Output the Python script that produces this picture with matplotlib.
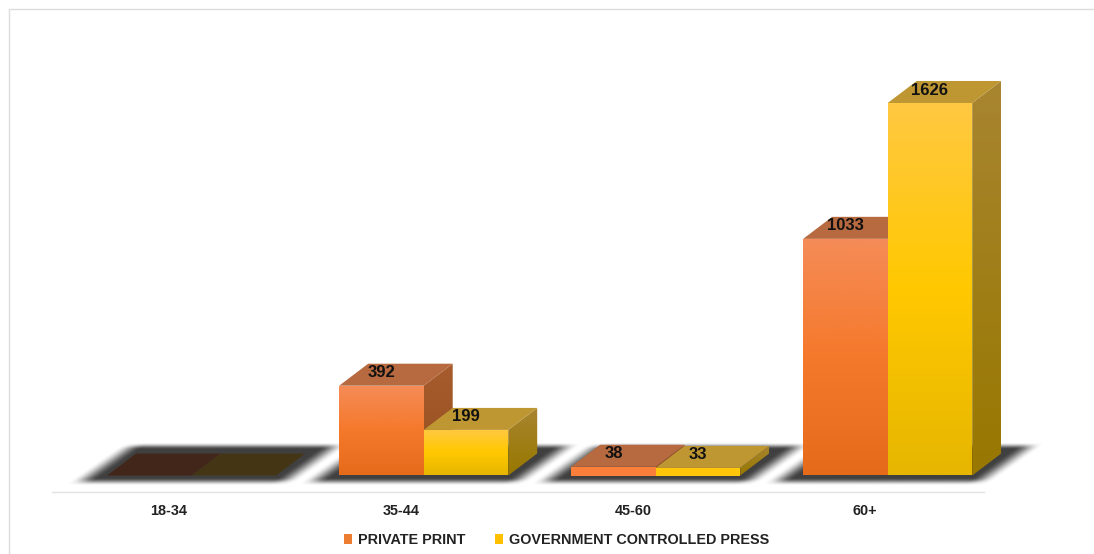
'''
Age group bar chart with a fake 3D look, private print vs government press
'''

import numpy as np
import matplotlib
matplotlib.use('Agg')
import matplotlib.pyplot as plt
from matplotlib.colors import LinearSegmentedColormap, to_rgb
from matplotlib.patches import Patch, Polygon, Rectangle

# Data
CATEGORIES = ['18-34', '35-44', '45-60', '60+']
PRIVATE_PRINT = [0, 392, 38, 1033]
GOVERNMENT_PRESS = [0, 199, 33, 1626]
SERIES_NAMES = ['PRIVATE PRINT', 'GOVERNMENT CONTROLLED PRESS']

# Figure settings (pixels)
W, H = 1094, 554
AX_LEFT, AX_RIGHT = 52, 984
AX_TOP, AX_BOTTOM = 60, 492
BASE_PX = 475.5
CAT_PX = 232
UNIT_PX = 0.2291
FIRST_CAT_PX = 169
BAR_SHIFT_PX = 22.7

# Bar shape in pixels
BAR_W_PX = 84.5
DEPTH_X_PX = 29
DEPTH_Y_PX = 22

# Colours: front gradient top to bottom, side gradient, top face, empty top face
ORANGE = {'front': ['#f58c58', '#f5792b', '#e56b1b'], 'side': ['#a85c2e', '#96501f'],
          'top': '#b7693f', 'empty': '#42261a', 'thin': '#f97f3a'}
YELLOW = {'front': ['#ffc942', '#ffc800', '#e6b600'], 'side': ['#a88530', '#987800'],
          'top': '#be9733', 'empty': '#443515', 'thin': '#ffc60a'}
FONT = 'Liberation Sans'


def gradient_face(ax, corners, colors, zorder):
    # Vertical colour gradient clipped to a polygon
    xs = [c[0] for c in corners]
    ys = [c[1] for c in corners]
    cmap = LinearSegmentedColormap.from_list('face', colors)
    img = ax.imshow(np.linspace(0, 1, 256).reshape(-1, 1), cmap=cmap, aspect='auto', origin='upper',
                    extent=[min(xs), max(xs), min(ys), max(ys)], zorder=zorder)
    img.set_clip_box(ax.figure.bbox)
    img.set_clip_path(Polygon(corners, closed=True, transform=ax.transData))


def draw_bar(ax, x_left, value, style, x_w, dx, dy, zorder):
    x_right = x_left + x_w
    front = [(x_left, 0), (x_right, 0), (x_right, value), (x_left, value)]
    side = [(x_right, 0), (x_right + dx, dy), (x_right + dx, value + dy), (x_right, value)]
    top = [(x_left, value), (x_right, value), (x_right + dx, value + dy), (x_left + dx, value + dy)]
    if value > 0:
        gradient_face(ax, side, style['side'], zorder)
        if value < 100:
            ax.add_patch(Polygon(front, closed=True, facecolor=style['thin'], edgecolor='none',
                                 zorder=zorder + 0.2, clip_on=False))
        else:
            gradient_face(ax, front, style['front'], zorder + 0.2)
    top_color = style['top'] if value > 0 else style['empty']
    ax.add_patch(Polygon(top, closed=True, facecolor=top_color, edgecolor='none', zorder=zorder + 0.1, clip_on=False))


def smooth(t):
    t = np.clip(t, 0, 1)
    return t * t * (3 - 2 * t)


def draw_shadow(ax, x_center, x_per_px, y_per_px):
    # Blurred skewed shadow on the floor under one group
    px = np.arange(-150, 185)
    py = np.arange(-16, 38)
    gx, gy = np.meshgrid(px, py)
    skew = gx - gy * 1.4
    band_x = smooth((BAR_W_PX + 30 - np.abs(skew)) / 26)
    band_y = smooth((gy + 11) / 8) * smooth((33 - gy) / 7)
    alpha = band_x * band_y * 0.9
    rgba = np.zeros(alpha.shape + (4,))
    rgba[..., :3] = to_rgb('#2a2a2a')
    rgba[..., 3] = alpha
    img = ax.imshow(rgba, aspect='auto', origin='lower', zorder=1, interpolation='bilinear',
                    extent=[x_center + px[0] * x_per_px, x_center + px[-1] * x_per_px,
                            py[0] * y_per_px, py[-1] * y_per_px])
    img.set_clip_on(False)


def main():

    fig = plt.figure(figsize=(W / 100, H / 100), dpi=100, facecolor='white')

    # Thin frame around the picture
    fig.add_artist(Rectangle((8.5 / W, -0.01), 1.1, 1 - 8.5 / H + 0.01, transform=fig.transFigure,
                             facecolor='none', edgecolor='#dcdcdc', linewidth=1))

    ax = fig.add_axes([AX_LEFT / W, 1 - AX_BOTTOM / H, (AX_RIGHT - AX_LEFT) / W, (AX_BOTTOM - AX_TOP) / H])
    ax.patch.set_alpha(0)

    x_per_px = 1 / CAT_PX
    y_per_px = 1 / UNIT_PX
    x_w = BAR_W_PX * x_per_px
    dx = DEPTH_X_PX * x_per_px
    dy = DEPTH_Y_PX * y_per_px
    shift = BAR_SHIFT_PX * x_per_px

    positions = np.arange(len(CATEGORIES))
    for i in positions:
        draw_shadow(ax, i + shift, x_per_px, y_per_px)

    for i in positions:
        center = i + shift
        # Left bar first, the right bar's faces cover part of it
        draw_bar(ax, center - x_w, PRIVATE_PRINT[i], ORANGE, x_w, dx, dy, 2)
        draw_bar(ax, center, GOVERNMENT_PRESS[i], YELLOW, x_w, dx, dy, 3)

        # Value labels sit on the top faces, zeros get none
        for x_left, value in ((center - x_w, PRIVATE_PRINT[i]), (center, GOVERNMENT_PRESS[i])):
            if value > 0:
                ax.text(x_left + x_w / 2, value + dy * 0.59, str(value), ha='center', va='center',
                        fontsize=12, fontweight='bold', family=FONT, color='#111111', zorder=6)

    ax.set_xlim((AX_LEFT - FIRST_CAT_PX) * x_per_px, (AX_RIGHT - FIRST_CAT_PX) * x_per_px)
    ax.set_ylim((BASE_PX - AX_BOTTOM) * y_per_px, (BASE_PX - AX_TOP) * y_per_px)

    ax.set_xticks(positions)
    ax.set_xticklabels(CATEGORIES, fontsize=10.4, fontweight='bold', family=FONT, color='#222222')
    ax.tick_params(axis='x', length=0, pad=8.5)
    ax.set_yticks([])
    for side in ['top', 'left', 'right']:
        ax.spines[side].set_visible(False)
    ax.spines['bottom'].set_color('#e2e2e2')
    ax.spines['bottom'].set_linewidth(1)

    handles = [Patch(facecolor='#ed7d31'), Patch(facecolor='#ffc000')]
    fig.legend(handles, SERIES_NAMES, loc='center', bbox_to_anchor=(556.5 / W, 1 - 540 / H), ncol=2,
               frameon=False, handlelength=0.55, handleheight=0.7, handletextpad=0.4, columnspacing=2.1,
               prop={'family': FONT, 'weight': 'bold', 'size': 10.4}, labelcolor='#222222')

    plt.savefig('out.png', dpi=100)
    plt.close()


if __name__ == '__main__':
    main()
